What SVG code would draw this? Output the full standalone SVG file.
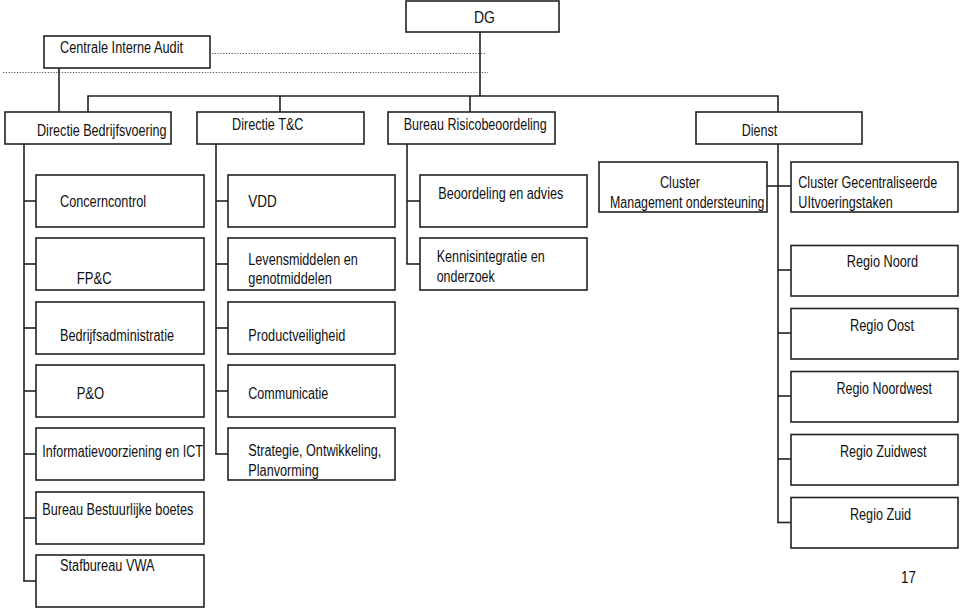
<svg xmlns="http://www.w3.org/2000/svg" width="960" height="609" viewBox="0 0 960 609">
<style>
.b{fill:#fff;stroke:#222;stroke-width:1.6}
.c{fill:none;stroke:#222;stroke-width:1.6}
.d{fill:none;stroke:#555;stroke-width:1.2;stroke-dasharray:1.2 1.6}
text{font-family:"Liberation Sans",Arial,sans-serif;font-size:16px;fill:#111}
</style>
<rect width="960" height="609" fill="#fff"/>
<g id="connectors">
<line class="d" x1="212" y1="53.5" x2="486" y2="53.5"/>
<line class="d" x1="3" y1="72.5" x2="488" y2="72.5"/>
<polyline class="c" points="480,32 480,96"/>
<polyline class="c" points="88,112 88,96 778,96 778,112"/>
<line class="c" x1="280" y1="96" x2="280" y2="112"/>
<line class="c" x1="470" y1="96" x2="470" y2="112"/>
<line class="c" x1="59" y1="68" x2="59" y2="112"/>
<line class="c" x1="24" y1="144" x2="24" y2="581"/>
<line class="c" x1="24" y1="201" x2="36" y2="201"/>
<line class="c" x1="24" y1="264" x2="36" y2="264"/>
<line class="c" x1="24" y1="328" x2="36" y2="328"/>
<line class="c" x1="24" y1="391" x2="36" y2="391"/>
<line class="c" x1="24" y1="454" x2="36" y2="454"/>
<line class="c" x1="24" y1="518" x2="36" y2="518"/>
<line class="c" x1="23.2" y1="581" x2="36" y2="581"/>
<line class="c" x1="216" y1="144" x2="216" y2="454"/>
<line class="c" x1="216" y1="201" x2="228" y2="201"/>
<line class="c" x1="216" y1="264" x2="228" y2="264"/>
<line class="c" x1="216" y1="328" x2="228" y2="328"/>
<line class="c" x1="216" y1="391" x2="228" y2="391"/>
<line class="c" x1="215.2" y1="454" x2="228" y2="454"/>
<line class="c" x1="407" y1="144" x2="407" y2="264"/>
<line class="c" x1="407" y1="201" x2="420" y2="201"/>
<line class="c" x1="406.2" y1="264" x2="420" y2="264"/>
<line class="c" x1="778" y1="144" x2="778" y2="522.5"/>
<line class="c" x1="767" y1="186" x2="791" y2="186"/>
<line class="c" x1="778" y1="270" x2="791" y2="270"/>
<line class="c" x1="778" y1="333" x2="791" y2="333"/>
<line class="c" x1="778" y1="396" x2="791" y2="396"/>
<line class="c" x1="778" y1="459" x2="791" y2="459"/>
<line class="c" x1="777.2" y1="522.5" x2="791" y2="522.5"/>
</g>
<g id="dg"><rect class="b" x="406" y="1" width="153" height="31"/><text x="474" y="23.3" textLength="21" lengthAdjust="spacingAndGlyphs">DG</text></g>
<g id="cia"><rect class="b" x="44" y="36" width="166" height="32"/><text x="60" y="53.4" textLength="123" lengthAdjust="spacingAndGlyphs">Centrale Interne Audit</text></g>
<g id="dbv"><rect class="b" x="5" y="112" width="166" height="32"/><text x="37" y="135.7" textLength="129.5" lengthAdjust="spacingAndGlyphs">Directie Bedrijfsvoering</text></g>
<g id="dtc"><rect class="b" x="197" y="112" width="167" height="32"/><text x="232" y="130" textLength="71.5" lengthAdjust="spacingAndGlyphs">Directie T&amp;C</text></g>
<g id="bro"><rect class="b" x="388" y="112" width="167" height="32"/><text x="403.7" y="130" textLength="143" lengthAdjust="spacingAndGlyphs">Bureau Risicobeoordeling</text></g>
<g id="dienst"><rect class="b" x="696" y="112" width="166" height="32"/><text x="741.7" y="135.7" textLength="35.5" lengthAdjust="spacingAndGlyphs">Dienst</text></g>

<g id="concerncontrol"><rect class="b" x="36" y="175" width="168" height="52"/><text x="60" y="207.4" textLength="86" lengthAdjust="spacingAndGlyphs">Concerncontrol</text></g>
<g id="fpc"><rect class="b" x="36" y="238" width="168" height="52"/><text x="76.7" y="284.4" textLength="35" lengthAdjust="spacingAndGlyphs">FP&amp;C</text></g>
<g id="badm"><rect class="b" x="36" y="302" width="168" height="52"/><text x="60" y="341.4" textLength="114" lengthAdjust="spacingAndGlyphs">Bedrijfsadministratie</text></g>
<g id="po"><rect class="b" x="36" y="365" width="168" height="52"/><text x="76.7" y="398.7" textLength="27.5" lengthAdjust="spacingAndGlyphs">P&amp;O</text></g>
<g id="ict"><rect class="b" x="36" y="428" width="168" height="52"/><text x="42.3" y="457.4" textLength="160.5" lengthAdjust="spacingAndGlyphs">Informatievoorziening en ICT</text></g>
<g id="bbb"><rect class="b" x="36" y="492" width="168" height="52"/><text x="42.3" y="514.7" textLength="151" lengthAdjust="spacingAndGlyphs">Bureau Bestuurlijke boetes</text></g>
<g id="vwa"><rect class="b" x="36" y="555" width="168" height="52"/><text x="60" y="571.4" textLength="94.5" lengthAdjust="spacingAndGlyphs">Stafbureau VWA</text></g>

<g id="vdd"><rect class="b" x="228" y="175" width="167" height="52"/><text x="248.3" y="207.4" textLength="28.5" lengthAdjust="spacingAndGlyphs">VDD</text></g>
<g id="lev"><rect class="b" x="228" y="238" width="167" height="52"/><text x="248.3" y="264.7" textLength="109.5" lengthAdjust="spacingAndGlyphs">Levensmiddelen en</text><text x="248.3" y="284.4" textLength="83.5" lengthAdjust="spacingAndGlyphs">genotmiddelen</text></g>
<g id="pv"><rect class="b" x="228" y="302" width="167" height="52"/><text x="248.3" y="341.4" textLength="97" lengthAdjust="spacingAndGlyphs">Productveiligheid</text></g>
<g id="comm"><rect class="b" x="228" y="365" width="167" height="52"/><text x="248.3" y="398.7" textLength="80" lengthAdjust="spacingAndGlyphs">Communicatie</text></g>
<g id="strat"><rect class="b" x="228" y="428" width="167" height="52"/><text x="248.3" y="455.7" textLength="133" lengthAdjust="spacingAndGlyphs">Strategie, Ontwikkeling,</text><text x="248.3" y="475.7" textLength="70.5" lengthAdjust="spacingAndGlyphs">Planvorming</text></g>

<g id="ba"><rect class="b" x="420" y="175" width="167" height="52"/><text x="438.3" y="199" textLength="125" lengthAdjust="spacingAndGlyphs">Beoordeling en advies</text></g>
<g id="ko"><rect class="b" x="420" y="238" width="167" height="52"/><text x="436.7" y="262.4" textLength="108" lengthAdjust="spacingAndGlyphs">Kennisintegratie en</text><text x="436.7" y="282.4" textLength="58" lengthAdjust="spacingAndGlyphs">onderzoek</text></g>

<g id="cmo"><rect class="b" x="599" y="162" width="168" height="50"/><text x="660" y="188.3" textLength="40" lengthAdjust="spacingAndGlyphs">Cluster</text><text x="610" y="208.3" textLength="154.5" lengthAdjust="spacingAndGlyphs">Management ondersteuning</text></g>
<g id="cgu"><rect class="b" x="791" y="162" width="167" height="50"/><text x="798.3" y="188.4" textLength="139" lengthAdjust="spacingAndGlyphs">Cluster Gecentraliseerde</text><text x="798.3" y="208" textLength="94.5" lengthAdjust="spacingAndGlyphs">UItvoeringstaken</text></g>
<g id="rnoord"><rect class="b" x="791" y="245.5" width="167" height="50.5"/><text x="846.7" y="267.4" textLength="71.5" lengthAdjust="spacingAndGlyphs">Regio Noord</text></g>
<g id="roost"><rect class="b" x="791" y="308.5" width="167" height="50.5"/><text x="850" y="330.7" textLength="64" lengthAdjust="spacingAndGlyphs">Regio Oost</text></g>
<g id="rnw"><rect class="b" x="791" y="371.5" width="167" height="50.5"/><text x="836.5" y="394" textLength="95.5" lengthAdjust="spacingAndGlyphs">Regio Noordwest</text></g>
<g id="rzw"><rect class="b" x="791" y="434.5" width="167" height="50.5"/><text x="840" y="456.7" textLength="86.5" lengthAdjust="spacingAndGlyphs">Regio Zuidwest</text></g>
<g id="rzuid"><rect class="b" x="791" y="497.5" width="167" height="50.5"/><text x="850" y="519.7" textLength="61" lengthAdjust="spacingAndGlyphs">Regio Zuid</text></g>
<text x="901" y="582.7" textLength="14.8" lengthAdjust="spacingAndGlyphs">17</text>
</svg>
